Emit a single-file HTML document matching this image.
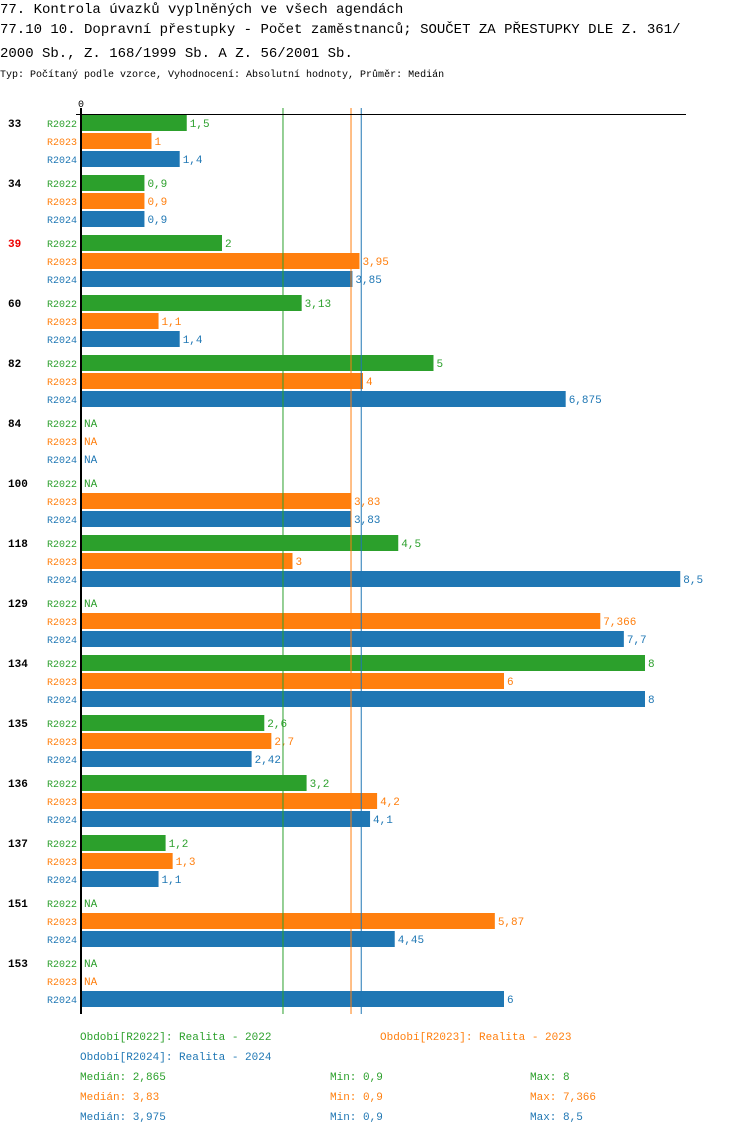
<!DOCTYPE html>
<html><head><meta charset="utf-8"><style>
body{margin:0;background:#fff;width:750px;height:1134px;overflow:hidden;font-family:"Liberation Mono",monospace}
svg text{font-family:"Liberation Mono",monospace}
</style></head><body>
<svg id="c" width="750" height="1134">
<text x="0" y="13" font-size="14">77. Kontrola úvazků vyplněných ve všech agendách</text>
<text x="0" y="33" font-size="14">77.10 10. Dopravní přestupky - Počet zaměstnanců; SOUČET ZA PŘESTUPKY DLE Z. 361/</text>
<text x="0" y="57" font-size="14">2000 Sb., Z. 168/1999 Sb. A Z. 56/2001 Sb.</text>
<text x="0" y="77" font-size="10">Typ: Počítaný podle vzorce, Vyhodnocení: Absolutní hodnoty, Průměr: Medián</text>
<text x="78" y="107" font-size="10">0</text>
</svg>
<script>
const categories=["33","34","39","60","82","84","100","118","129","134","135","136","137","151","153"];
const series=["R2022","R2023","R2024"];
const v2022=[1.5,0.9,2,3.13,5,null,null,4.5,null,8,2.6,3.2,1.2,null,null];
const v2023=[1,0.9,3.95,1.1,4,null,3.83,3,7.366,6,2.7,4.2,1.3,5.87,null];
const v2024=[1.4,0.9,3.85,1.4,6.875,null,3.83,8.5,7.7,8,2.42,4.1,1.1,4.45,6];
const labels2022=["1,5","0,9","2","3,13","5","NA","NA","4,5","NA","8","2,6","3,2","1,2","NA","NA"];
const labels2023=["1","0,9","3,95","1,1","4","NA","3,83","3","7,366","6","2,7","4,2","1,3","5,87","NA"];
const labels2024=["1,4","0,9","3,85","1,4","6,875","NA","3,83","8,5","7,7","8","2,42","4,1","1,1","4,45","6"];
const medians=[2.865,3.83,3.975];
const colors=["#2ca02c","#ff7f0e","#1f77b4"];
const svg=document.getElementById('c');
const NS="http://www.w3.org/2000/svg";
const xs=v=>81+v*70.5;
const gy=i=>114+60*i;
function mk(t,a){const e=document.createElementNS(NS,t);for(const k in a)e.setAttribute(k,a[k]);svg.appendChild(e);return e;}
const vals=[v2022,v2023,v2024],labs=[labels2022,labels2023,labels2024];
categories.forEach((c,i)=>{
  const t=mk('text',{x:8,y:gy(i)+13,'font-size':11,'font-weight':'bold',fill:c==="39"?"#e00":"#000"});
  t.textContent=c;
  
  
  series.forEach((s,r)=>{
    const y=gy(i)+1+18*r;
    const l=mk('text',{x:47,y:y+12,'font-size':10,fill:colors[r]});
    l.textContent=s;
    
    
    const v=vals[r][i];
    let ex;
    if(v!==null){
      const b=mk('rect',{x:81,y:y,width:xs(v)-81,height:16,fill:colors[r]});
      
      
      ex=xs(v)+3;
    }else ex=84;
    const vl=mk('text',{x:ex,y:y+12,'font-size':11,fill:colors[r]});
    vl.textContent=labs[r][i];
    
    
  });
});
medians.forEach((m,r)=>{
  const l=mk('line',{x1:xs(m),x2:xs(m),y1:108,y2:1014,stroke:colors[r],'stroke-width':1});
  
  
});
const yAxis=mk('line',{x1:81,x2:81,y1:108,y2:1014,stroke:'#000','stroke-width':2});


const topAxis=mk('line',{x1:76,x2:686,y1:114.5,y2:114.5,stroke:'#000','stroke-width':1});


const legendItems=[[80,1040,"Období[R2022]: Realita - 2022",0],[380,1040,"Období[R2023]: Realita - 2023",1],[80,1060,"Období[R2024]: Realita - 2024",2],
[80,1080,"Medián: 2,865",0],[330,1080,"Min: 0,9",0],[530,1080,"Max: 8",0],
[80,1100,"Medián: 3,83",1],[330,1100,"Min: 0,9",1],[530,1100,"Max: 7,366",1],
[80,1120,"Medián: 3,975",2],[330,1120,"Min: 0,9",2],[530,1120,"Max: 8,5",2]];
legendItems.forEach(([lx,ly,tx,r])=>{
  const t=mk('text',{x:lx,y:ly,'font-size':11,fill:colors[r]});
  t.textContent=tx;
  
  
});
</script>
</body></html>
